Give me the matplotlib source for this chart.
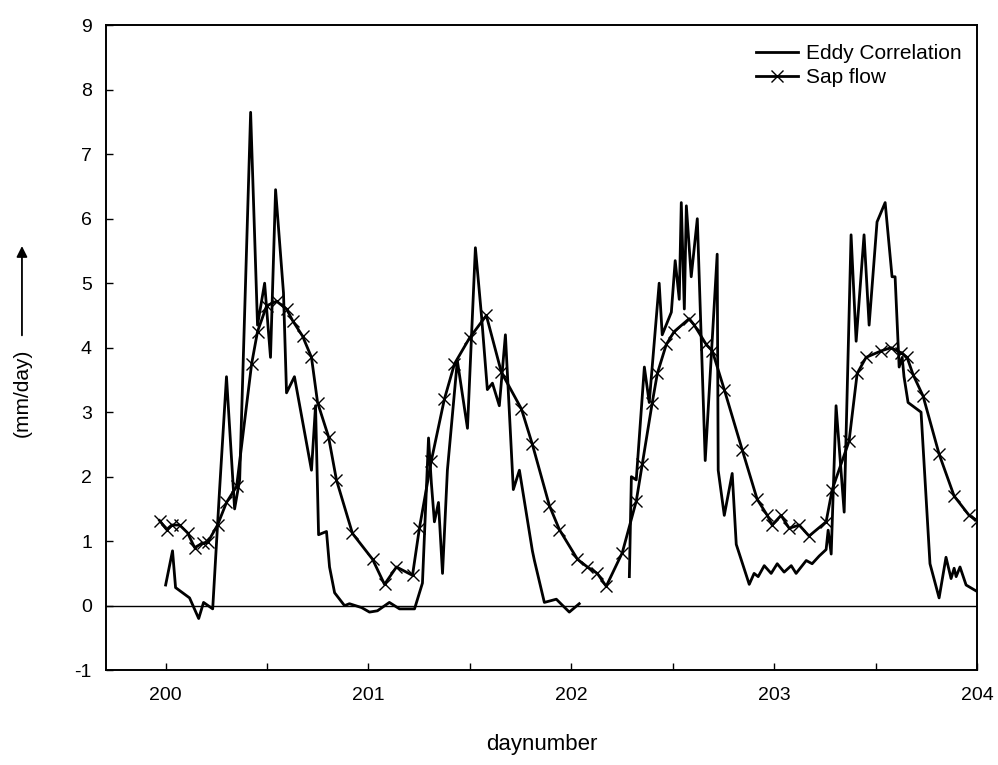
import matplotlib
matplotlib.use("Agg")
import matplotlib.pyplot as plt
import numpy as np

plt.rcParams['font.family'] = ['Liberation Sans', 'DejaVu Sans']
plt.rcParams['axes.unicode_minus'] = False

# Eddy correlation (day number, mm/day); NaN marks the data gap
eddy_day = [200.000, 200.034, 200.049, 200.118, 200.163, 200.187, 200.232, 200.266, 200.300,
            200.340, 200.365, 200.419, 200.453, 200.488, 200.517, 200.542, 200.581, 200.596,
            200.635, 200.719, 200.739, 200.754, 200.793, 200.808, 200.833, 200.882, 200.906,
            200.966, 201.005, 201.044, 201.103, 201.153, 201.227, 201.266, 201.296, 201.310,
            201.325, 201.345, 201.365, 201.389, 201.438, 201.488, 201.527, 201.557, 201.586,
            201.611, 201.645, 201.675, 201.714, 201.744, 201.808, 201.818, 201.867, 201.926,
            201.990, 202.039, 202.160,
            202.286, 202.296, 202.320, 202.360, 202.384, 202.433, 202.448, 202.493, 202.512,
            202.532, 202.542, 202.557, 202.567, 202.591, 202.621, 202.660, 202.719, 202.724,
            202.754, 202.793, 202.813, 202.877, 202.901, 202.921, 202.951, 202.985, 203.015,
            203.049, 203.084, 203.108, 203.158, 203.187, 203.222, 203.256, 203.266, 203.281,
            203.305, 203.345, 203.379, 203.404, 203.443, 203.468, 203.507, 203.547, 203.581,
            203.596, 203.616, 203.631, 203.640, 203.660, 203.724, 203.768, 203.813, 203.847,
            203.872, 203.887, 203.897, 203.916, 203.946, 204.000]
eddy_val = [0.32, 0.85, 0.28, 0.12, -0.2, 0.05, -0.05, 1.8, 3.55,
            1.5, 1.95, 7.65, 4.35, 5.0, 3.85, 6.45, 4.85, 3.3,
            3.55, 2.1, 3.1, 1.1, 1.15, 0.6, 0.2, 0.0, 0.03,
            -0.03, -0.1, -0.08, 0.05, -0.05, -0.05, 0.35, 2.6, 1.9,
            1.3, 1.6, 0.5, 2.1, 3.8, 2.75, 5.55, 4.5, 3.35,
            3.45, 3.1, 4.2, 1.8, 2.1, 0.85, 0.7, 0.05, 0.1,
            -0.1, 0.03, np.nan,
            0.45, 2.0, 1.95, 3.7, 3.15, 5.0, 4.2, 4.55, 5.35,
            4.75, 6.25, 4.6, 6.2, 5.1, 6.0, 2.25, 5.45, 2.1,
            1.4, 2.05, 0.95, 0.33, 0.5, 0.45, 0.62, 0.5, 0.65,
            0.52, 0.62, 0.5, 0.7, 0.65, 0.77, 0.87, 1.17, 0.8,
            3.1, 1.45, 5.75, 4.1, 5.75, 4.35, 5.95, 6.25, 5.1,
            5.1, 3.7, 3.85, 3.55, 3.15, 3.0, 0.65, 0.12, 0.75,
            0.42, 0.58, 0.45, 0.6, 0.32, 0.22]

# Sap flow (day number, mm/day)
sap_day = [199.970, 200.005, 200.030, 200.069, 200.108, 200.143, 200.182, 200.207, 200.256,
           200.300, 200.350, 200.424, 200.453, 200.498, 200.547, 200.596, 200.626,
           200.675, 200.719, 200.749, 200.803, 200.842, 200.921, 201.020, 201.079, 201.138,
           201.217, 201.251, 201.310, 201.374, 201.424, 201.498, 201.581, 201.655, 201.754,
           201.808, 201.892, 201.941, 202.030, 202.079, 202.128, 202.172, 202.251, 202.320,
           202.350, 202.399, 202.424, 202.468, 202.507, 202.581, 202.606, 202.665, 202.695,
           202.754, 202.842, 202.916, 202.966, 202.990, 203.034, 203.074, 203.123, 203.172,
           203.256, 203.286, 203.369, 203.409, 203.453, 203.527, 203.576, 203.626, 203.655,
           203.685, 203.734, 203.813, 203.887, 203.961, 204.000]
sap_val = [1.32, 1.18, 1.25, 1.25, 1.13, 0.9, 0.97, 0.98, 1.25,
           1.6, 1.85, 3.75, 4.25, 4.65, 4.72, 4.6, 4.42,
           4.18, 3.85, 3.15, 2.62, 1.95, 1.12, 0.72, 0.33, 0.6,
           0.47, 1.2, 2.25, 3.2, 3.75, 4.15, 4.5, 3.62, 3.05,
           2.5, 1.55, 1.18, 0.72, 0.6, 0.5, 0.3, 0.82, 1.62,
           2.2, 3.15, 3.6, 4.05, 4.25, 4.45, 4.35, 4.05, 3.95,
           3.35, 2.42, 1.65, 1.4, 1.25, 1.4, 1.2, 1.25, 1.08,
           1.3, 1.8, 2.55, 3.6, 3.85, 3.95, 4.0, 3.92, 3.85,
           3.58, 3.25, 2.35, 1.7, 1.4, 1.32]

x_ticks = [200, 200.5, 201, 201.5, 202, 202.5, 203, 203.5, 204]
x_labels = ['200', '', '201', '', '202', '', '203', '', '204']
y_ticks = list(range(-1, 10))

fig = plt.figure(figsize=(9.98, 7.65), dpi=100)
ax = fig.add_axes([0.106, 0.124, 0.873, 0.843])

ax.axhline(0, color='black', lw=1.0, zorder=1)
ax.plot(eddy_day, eddy_val, color='black', lw=2.0, label='Eddy Correlation', zorder=3)
ax.plot(sap_day, sap_val, color='black', lw=2.0, marker='x', markersize=9,
        markeredgewidth=1.0, label='Sap flow', zorder=3)

ax.set_xlim(199.705, 204.0)
ax.set_ylim(-1, 9)
ax.set_xticks(x_ticks)
ax.set_xticklabels(x_labels)
ax.set_yticks(y_ticks)
ax.tick_params(axis='both', direction='in', length=5, width=1, labelsize=14)
ax.tick_params(axis='x', pad=12)
ax.tick_params(axis='y', pad=10)
for s in ax.spines.values():
    s.set_linewidth(1.4)

ax.set_xlabel('daynumber', fontsize=16, labelpad=22)

# y label with upward arrow
fig.text(0.022, 0.486, '(mm/day)', rotation=90, fontsize=15, ha='center', va='center')
fig.add_artist(matplotlib.patches.FancyArrowPatch(
    (0.022, 0.558), (0.022, 0.682), transform=fig.transFigure,
    arrowstyle='-|>', mutation_scale=16, lw=1.3, color='black'))

ax.legend(loc='upper right', bbox_to_anchor=(0.992, 0.984), borderaxespad=0,
          frameon=False, fontsize=15, handlelength=2.0, handletextpad=0.4,
          labelspacing=0.25)

fig.savefig('out.png', dpi=100)
